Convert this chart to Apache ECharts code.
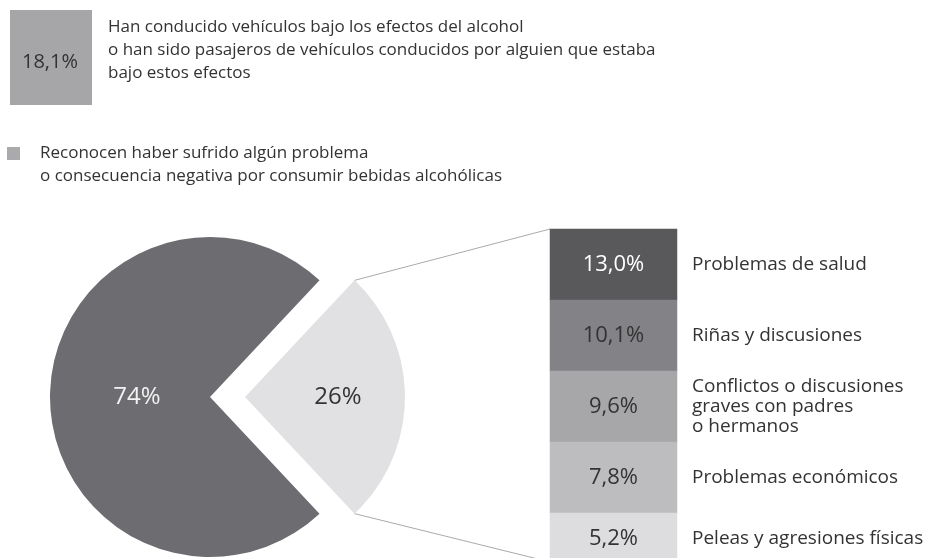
<!DOCTYPE html>
<html>
<head>
<meta charset="utf-8">
<script src="https://cdn.jsdelivr.net/npm/echarts@6/dist/echarts.min.js"></script>
<style>
  html, body { margin: 0; padding: 0; background: #fff; }
  #main { width: 930px; height: 558px; }
</style>
</head>
<body>
<div id="main"></div>
<script>
// datos
const pieNames = ['Reconocen algún problema', 'Sin problemas']
const pieValues = [26, 74]
const problemNames = [
  'Problemas de salud',
  'Riñas y discusiones',
  'Conflictos o discusiones\ngraves con padres\no hermanos',
  'Problemas económicos',
  'Peleas y agresiones físicas'
]
const problemValues = [13.0, 10.1, 9.6, 7.8, 5.2]
const problemColors = ['#59595c', '#838387', '#a7a7aa', '#bdbdc0', '#dddddf']
const problemTextColors = ['#fff', '#333', '#333', '#333', '#333']
const drivingValue = 18.1
const drivingText = 'Han conducido vehículos bajo los efectos del alcohol\no han sido pasajeros de vehículos conducidos por alguien que estaba\nbajo estos efectos'
const legendText = 'Reconocen haber sufrido algún problema\no consecuencia negativa por consumir bebidas alcohólicas'

const FONT = 'Open Sans'
const fmt = v => v.toFixed(1).replace('.', ',') + '%'

const chart = echarts.init(document.getElementById('main'))

// geometría del pastel y de la columna
const cx = 210, cy = 397, r = 160, offset = 35
const half = pieValues[0] / 100 * 180
const gridLeft = 550, gridTop = 229, rowH = 71, gridW = 127
const rad = half * Math.PI / 180
const arcX = cx + offset + r * Math.cos(rad)
// la última fila queda recortada por el borde, sube su texto
const lastShift = 10
const last = problemNames.length - 1

const option = {
  animation: false,
  grid: {
    left: gridLeft, top: gridTop, width: gridW, height: rowH * problemNames.length,
    outerBoundsMode: 'none', containLabel: false
  },
  xAxis: { type: 'category', data: [''], show: false },
  yAxis: {
    type: 'category',
    data: problemNames,
    inverse: true,
    position: 'right',
    axisLine: { show: false },
    axisTick: { show: false },
    splitLine: { show: false },
    axisLabel: {
      margin: 15, align: 'left', color: '#333', fontFamily: FONT, fontSize: 19, lineHeight: 20,
      formatter: (v, i) => i === last ? `{up|${v}}` : v,
      rich: {
        up: { fontFamily: FONT, fontSize: 19, color: '#333', padding: [0, 0, lastShift * 2, 0] }
      }
    }
  },
  series: [
    {
      type: 'pie',
      center: [cx, cy],
      radius: [0, r],
      startAngle: half,
      clockwise: true,
      selectedMode: 'single',
      selectedOffset: offset,
      emphasis: { disabled: true },
      label: { position: 'inside', fontFamily: FONT, fontSize: 24, formatter: '{c}%' },
      labelLine: { show: false },
      labelLayout: { dx: 10 },
      data: [
        { name: pieNames[0], value: pieValues[0], selected: true, itemStyle: { color: '#e1e1e3' }, label: { color: '#333' } },
        { name: pieNames[1], value: pieValues[1], itemStyle: { color: '#6d6d71' }, label: { color: '#f2f2f2' } }
      ]
    },
    {
      type: 'heatmap',
      emphasis: { disabled: true },
      label: { show: true, fontFamily: FONT, fontSize: 22, formatter: p => fmt(p.value[2]) },
      data: problemValues.map((v, i) => ({
        value: [0, i, v],
        itemStyle: { color: problemColors[i] },
        label: { color: problemTextColors[i], offset: [0, i === last ? -lastShift : 0] }
      }))
    }
  ],
  graphic: [
    {
      type: 'rect', left: 10, top: 10,
      shape: { width: 82, height: 95 },
      style: { fill: '#a6a6a9' }
    },
    {
      type: 'text', x: 50, y: 62,
      style: { text: fmt(drivingValue), font: `20px "${FONT}"`, fill: '#333', align: 'center', verticalAlign: 'middle' }
    },
    {
      type: 'text', x: 108, y: 16,
      style: { text: drivingText, font: `17px "${FONT}"`, lineHeight: 23, fill: '#333', verticalAlign: 'top' }
    },
    {
      type: 'rect', left: 7, top: 147,
      shape: { width: 13, height: 13 },
      style: { fill: '#aaaaad' }
    },
    {
      type: 'text', x: 40, y: 142,
      style: { text: legendText, font: `17px "${FONT}"`, lineHeight: 23, fill: '#333', verticalAlign: 'top' }
    },
    {
      type: 'line',
      shape: { x1: arcX, y1: cy - r * Math.sin(rad), x2: gridLeft, y2: gridTop },
      style: { stroke: '#aaa', lineWidth: 1 }
    },
    {
      type: 'line',
      shape: { x1: arcX, y1: cy + r * Math.sin(rad), x2: gridLeft, y2: 562 },
      style: { stroke: '#aaa', lineWidth: 1 }
    }
  ]
}

chart.setOption(option)
</script>
</body>
</html>
